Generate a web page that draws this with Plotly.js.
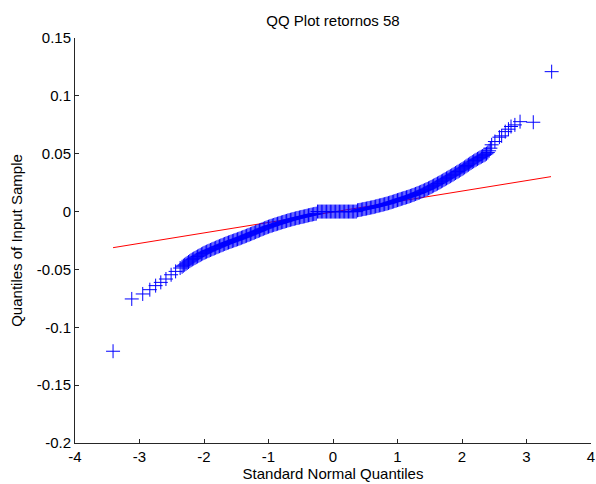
<!DOCTYPE html>
<html>
<head>
<meta charset="utf-8">
<script src="https://cdn.plot.ly/plotly-3.0.1.min.js"></script>
<style>
  html, body { margin: 0; padding: 0; background: #ffffff; }
  #chart { width: 596px; height: 484px; }
</style>
</head>
<body>
<div id="chart"></div>
<script>
// ---- data (QQ plot) ----
// Standard normal quantiles (x) and sample quantiles (y)
const leftTailX = [-3.41, -3.12, -2.95, -2.84, -2.75, -2.67, -2.59, -2.51, -2.44, -2.37];
const leftTailY = [-0.1207, -0.0755, -0.0712, -0.0675, -0.0640, -0.0612, -0.0583, -0.0546, -0.0517, -0.0488];

const lowerBodyX = [
  -2.34, -2.32, -2.30, -2.28, -2.26, -2.24, -2.22, -2.20, -2.18, -2.16,
  -2.14, -2.12, -2.10, -2.08, -2.06, -2.04, -2.02, -2.00, -1.98, -1.96,
  -1.94, -1.92, -1.90, -1.88, -1.86, -1.84, -1.82, -1.80, -1.78, -1.76,
  -1.74, -1.72, -1.70, -1.68, -1.66, -1.64, -1.62, -1.60, -1.58, -1.56,
  -1.54, -1.52, -1.50, -1.48, -1.46, -1.44, -1.42, -1.40, -1.38, -1.36,
  -1.34, -1.32, -1.30, -1.28, -1.26, -1.24, -1.22, -1.20, -1.18, -1.16,
  -1.14, -1.12, -1.10, -1.08, -1.06, -1.04, -1.02, -1.00, -0.98, -0.96,
  -0.94, -0.92, -0.90, -0.88, -0.86, -0.84, -0.82, -0.80, -0.78, -0.76,
  -0.74, -0.72, -0.70, -0.68, -0.66, -0.64, -0.62, -0.60, -0.58, -0.56,
  -0.54, -0.52, -0.50, -0.48, -0.46, -0.44, -0.42, -0.40, -0.38, -0.36,
  -0.34, -0.32, -0.30, -0.28, -0.26];
const lowerBodyY = [
  -0.0477, -0.0468, -0.0460, -0.0452, -0.0444, -0.0436, -0.0428, -0.0420, -0.0413, -0.0407,
  -0.0401, -0.0394, -0.0388, -0.0382, -0.0376, -0.0369, -0.0363, -0.0357, -0.0352, -0.0347,
  -0.0342, -0.0337, -0.0332, -0.0327, -0.0322, -0.0318, -0.0313, -0.0308, -0.0303, -0.0299,
  -0.0294, -0.0290, -0.0285, -0.0280, -0.0276, -0.0271, -0.0267, -0.0263, -0.0259, -0.0255,
  -0.0251, -0.0247, -0.0243, -0.0239, -0.0235, -0.0231, -0.0226, -0.0222, -0.0218, -0.0213,
  -0.0209, -0.0204, -0.0200, -0.0195, -0.0191, -0.0186, -0.0182, -0.0177, -0.0172, -0.0168,
  -0.0163, -0.0158, -0.0153, -0.0149, -0.0144, -0.0140, -0.0135, -0.0131, -0.0127, -0.0123,
  -0.0120, -0.0116, -0.0112, -0.0109, -0.0105, -0.0102, -0.0098, -0.0094, -0.0091, -0.0088,
  -0.0084, -0.0081, -0.0077, -0.0074, -0.0071, -0.0068, -0.0065, -0.0062, -0.0059, -0.0056,
  -0.0054, -0.0051, -0.0048, -0.0046, -0.0043, -0.0041, -0.0038, -0.0035, -0.0032, -0.0030,
  -0.0027, -0.0025, -0.0022, -0.0020, -0.0018];

const zeroRunX = [
  -0.24, -0.22, -0.20, -0.18, -0.16, -0.14, -0.12, -0.10, -0.08, -0.06,
  -0.04, -0.02, 0.00, 0.02, 0.04, 0.06, 0.08, 0.10, 0.12, 0.14,
  0.16, 0.18, 0.20, 0.22, 0.24, 0.26, 0.28, 0.30, 0.32, 0.34, 0.36];
const zeroRunY = [
  0, 0, 0, 0, 0, 0, 0, 0, 0, 0,
  0, 0, 0, 0, 0, 0, 0, 0, 0, 0,
  0, 0, 0, 0, 0, 0, 0, 0, 0, 0, 0];

const upperBodyX = [
  0.38, 0.40, 0.42, 0.44, 0.46, 0.48, 0.50, 0.52, 0.54, 0.56,
  0.58, 0.60, 0.62, 0.64, 0.66, 0.68, 0.70, 0.72, 0.74, 0.76,
  0.78, 0.80, 0.82, 0.84, 0.86, 0.88, 0.90, 0.92, 0.94, 0.96,
  0.98, 1.00, 1.02, 1.04, 1.06, 1.08, 1.10, 1.12, 1.14, 1.16,
  1.18, 1.20, 1.22, 1.24, 1.26, 1.28, 1.30, 1.32, 1.34, 1.36,
  1.38, 1.40, 1.42, 1.44, 1.46, 1.48, 1.50, 1.52, 1.54, 1.56,
  1.58, 1.60, 1.62, 1.64, 1.66, 1.68, 1.70, 1.72, 1.74, 1.76,
  1.78, 1.80, 1.82, 1.84, 1.86, 1.88, 1.90, 1.92, 1.94, 1.96,
  1.98, 2.00, 2.02, 2.04, 2.06, 2.08, 2.10, 2.12, 2.14, 2.16,
  2.18, 2.20, 2.22, 2.24, 2.26, 2.28, 2.30, 2.32, 2.34, 2.36,
  2.38, 2.40, 2.42, 2.44];
const upperBodyY = [
  0.0011, 0.0013, 0.0015, 0.0017, 0.0020, 0.0022, 0.0024, 0.0026, 0.0029, 0.0031,
  0.0034, 0.0036, 0.0038, 0.0041, 0.0044, 0.0047, 0.0050, 0.0053, 0.0055, 0.0058,
  0.0061, 0.0064, 0.0067, 0.0070, 0.0073, 0.0077, 0.0080, 0.0084, 0.0087, 0.0091,
  0.0095, 0.0099, 0.0102, 0.0106, 0.0110, 0.0113, 0.0117, 0.0120, 0.0124, 0.0127,
  0.0131, 0.0135, 0.0139, 0.0143, 0.0147, 0.0152, 0.0156, 0.0161, 0.0165, 0.0170,
  0.0175, 0.0180, 0.0185, 0.0190, 0.0195, 0.0201, 0.0206, 0.0212, 0.0218, 0.0224,
  0.0230, 0.0236, 0.0242, 0.0248, 0.0254, 0.0261, 0.0267, 0.0274, 0.0280, 0.0287,
  0.0293, 0.0300, 0.0306, 0.0313, 0.0319, 0.0326, 0.0333, 0.0340, 0.0346, 0.0353,
  0.0360, 0.0367, 0.0374, 0.0382, 0.0390, 0.0398, 0.0405, 0.0413, 0.0420, 0.0428,
  0.0435, 0.0442, 0.0448, 0.0455, 0.0461, 0.0468, 0.0474, 0.0480, 0.0486, 0.0492,
  0.0500, 0.0510, 0.0525, 0.0548];

const rightTailX = [2.46, 2.51, 2.58, 2.615, 2.67, 2.72, 2.76, 2.82, 2.90, 3.105, 3.39];
const rightTailY = [0.0577, 0.0605, 0.0643, 0.0654, 0.0691, 0.0712, 0.0735, 0.0749, 0.0777, 0.0772, 0.1209];

// reference line (through the quartiles, extended to data range)
const refLineX = [-3.41, 3.38];
const refLineY = [-0.0312, 0.0302];

// tick labels
const xTickVals = [-4, -3, -2, -1, 0, 1, 2, 3, 4];
const xTickText = ["-4", "-3", "-2", "-1", "0", "1", "2", "3", "4"];
const yTickVals = [-0.2, -0.15, -0.1, -0.05, 0, 0.05, 0.1, 0.15];
const yTickText = ["-0.2", "-0.15", "-0.1", "-0.05", "0", "0.05", "0.1", "0.15"];

const titleText = "QQ Plot retornos 58";
const xTitle = "Standard Normal Quantiles";
const yTitle = "Quantiles of Input Sample";

// ---- build chart ----
const qx = [].concat(leftTailX, lowerBodyX, zeroRunX, upperBodyX, rightTailX);
const qy = [].concat(leftTailY, lowerBodyY, zeroRunY, upperBodyY, rightTailY);

const FONT = "Arial, 'Liberation Sans', Helvetica, sans-serif";
const FS = 15;

const traces = [
  {
    x: refLineX, y: refLineY,
    type: "scatter", mode: "lines",
    line: { color: "#ff0000", width: 1 },
    hoverinfo: "skip", showlegend: false
  },
  {
    x: qx, y: qy,
    type: "scatter", mode: "markers",
    marker: { symbol: "cross-thin", size: 10, color: "#0000ff",
              line: { color: "#0000ff", width: 1 } },
    showlegend: false
  }
];

const axisCommon = {
  showgrid: false, zeroline: false,
  showline: true, linecolor: "#262626", linewidth: 1, mirror: false,
  ticks: "inside", ticklen: 4, tickwidth: 1, tickcolor: "#262626",
  tickfont: { family: FONT, size: FS, color: "#000000" },
  fixedrange: true
};

const layout = {
  width: 596, height: 484,
  paper_bgcolor: "#ffffff", plot_bgcolor: "#ffffff",
  margin: { l: 75, r: 5, t: 38, b: 41, pad: 0 },
  font: { family: FONT, size: FS, color: "#000000" },
  title: {
    text: titleText,
    font: { family: FONT, size: FS, color: "#000000" },
    x: 0.5, xref: "paper", xanchor: "center",
    y: 1 - 21 / 484, yref: "container", yanchor: "middle"
  },
  xaxis: Object.assign({}, axisCommon, {
    range: [-4, 4],
    tickmode: "array", tickvals: xTickVals, ticktext: xTickText,
    title: { text: xTitle, font: { family: FONT, size: FS, color: "#000000" }, standoff: 3 },
    automargin: false
  }),
  yaxis: Object.assign({}, axisCommon, {
    range: [-0.2, 0.15],
    tickmode: "array", tickvals: yTickVals, ticktext: yTickText,
    title: { text: yTitle, font: { family: FONT, size: FS, color: "#000000" }, standoff: 10 },
    automargin: false
  }),
  showlegend: false
};

Plotly.newPlot("chart", traces, layout, { staticPlot: true, displayModeBar: false });
</script>
</body>
</html>
